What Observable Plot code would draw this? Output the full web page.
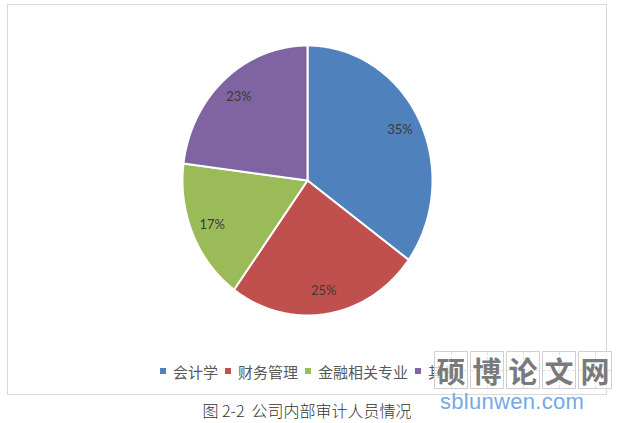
<!DOCTYPE html>
<html>
<head>
<meta charset="utf-8">
<script src="https://cdn.jsdelivr.net/npm/d3@7"></script>
<script src="https://cdn.jsdelivr.net/npm/@observablehq/plot@0.6"></script>
<style>
  html, body { margin: 0; padding: 0; background: #fff; }
  #wrap { position: relative; width: 623px; height: 423px; overflow: hidden; font-family: "Noto Sans CJK SC", sans-serif; }
  #frame { position: absolute; left: 7px; top: 4px; width: 600px; height: 391px; border: 1px solid #d9d9d9; box-sizing: border-box; }
  #chart { position: absolute; left: 0; top: 0; }
  #legend { position: absolute; left: 160px; top: 360px; height: 22px; display: flex; align-items: center; font-size: 15px; color: #595959; white-space: nowrap; }
  #legend .sw { width: 6px; height: 6px; margin-right: 7px; }
  #legend .it { display: flex; align-items: center; margin-right: 7px; }
  #caption { position: absolute; left: 0; width: 614px; top: 398px; text-align: center; font-size: 16px; color: #333; font-family: "Noto Sans CJK SC", sans-serif; font-weight: 300; }
  #wm { position: absolute; left: 434px; top: 351px; display: flex; }
  #wm .bx { position: relative; width: 32px; height: 36px; margin-right: 2px; border: 1px solid #d0d0d0; background: rgba(255,255,255,0.7);
            font-size: 29px; line-height: 36px; text-align: center; color: #7a7a7a; font-weight: 700; font-family: "Noto Sans CJK SC", sans-serif; }
  #wm .bx::before { content: ""; position: absolute; left: 50%; top: 0; bottom: 0; border-left: 1px dashed #e2e2e2; }
  #wm .bx::after { content: ""; position: absolute; top: 50%; left: 0; right: 0; border-top: 1px dashed #e2e2e2; }
  #wm .bx span { position: relative; z-index: 1; }
  #wmurl { position: absolute; left: 440px; top: 389px; font-family: "Liberation Sans", Arial, sans-serif; font-size: 22px; color: #74a9e6; letter-spacing: 0.3px; }
</style>
</head>
<body>
<div id="wrap">
  <div id="frame"></div>
  <div id="chart"></div>
  <div id="legend"></div>
  <div id="wm"></div>
  <div id="wmurl">sblunwen.com</div>
  <div id="caption">图 2-2&nbsp;&nbsp;公司内部审计人员情况</div>
</div>
<script>
const categories = ["会计学", "财务管理", "金融相关专业", "其他"];
const shares = [35, 25, 17, 23];
const labels = ["35%", "25%", "17%", "23%"];
const colors = ["#4F81BD", "#C0504D", "#9BBB59", "#8064A2"];
const watermarkChars = ["硕", "博", "论", "文", "网"];

const total = d3.sum(shares);
const arcs = [];
const labelPts = [];
let acc = 0;
categories.forEach((name, i) => {
  const a0 = acc / total * 2 * Math.PI;
  acc += shares[i];
  const a1 = acc / total * 2 * Math.PI;
  arcs.push({name, x: 0, y: 0});
  const n = Math.max(2, Math.ceil((a1 - a0) / (Math.PI / 180)));
  for (let k = 0; k <= n; k++) {
    const a = a0 + (a1 - a0) * k / n;
    arcs.push({name, x: Math.sin(a), y: Math.cos(a)});
  }
  arcs.push({name, x: 0, y: 0});
  const am = (a0 + a1) / 2;
  labelPts.push({name, label: labels[i], x: 0.83 * Math.sin(am), y: 0.83 * Math.cos(am)});
});

const plot = Plot.plot({
  width: 623,
  height: 398,
  margin: 0,
  x: {domain: [-1, 1], range: [182, 432], axis: null},
  y: {domain: [-1, 1], range: [315, 45], axis: null},
  color: {domain: categories, range: colors},
  marks: [
    Plot.line(arcs, {x: "x", y: "y", z: "name", fill: "name", stroke: "white", strokeWidth: 2, strokeLinejoin: "round", curve: "linear"}),
    Plot.text(labelPts, {x: "x", y: "y", text: "label", fill: "#3a3a3a", fontSize: 13, fontFamily: "Lato, 'Open Sans', sans-serif"})
  ]
});
plot.style.background = "transparent";
document.getElementById("chart").appendChild(plot);

const legend = document.getElementById("legend");
categories.forEach((c, i) => {
  const it = document.createElement("div");
  it.className = "it";
  const sw = document.createElement("div");
  sw.className = "sw";
  sw.style.background = colors[i];
  const tx = document.createElement("span");
  tx.textContent = c;
  it.appendChild(sw); it.appendChild(tx);
  legend.appendChild(it);
});

const wm = document.getElementById("wm");
watermarkChars.forEach(ch => {
  const b = document.createElement("div");
  b.className = "bx";
  const s = document.createElement("span");
  s.textContent = ch;
  b.appendChild(s);
  wm.appendChild(b);
});
</script>
</body>
</html>
